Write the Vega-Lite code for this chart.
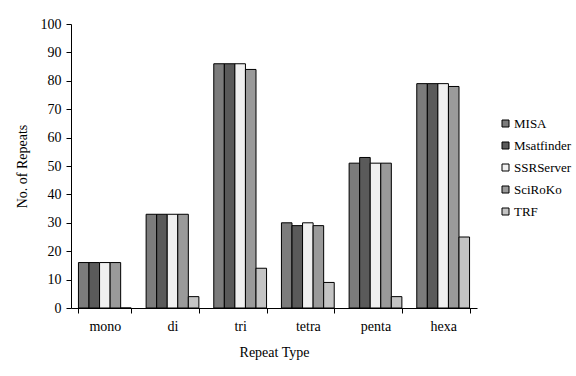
{
  "$schema": "https://vega.github.io/schema/vega-lite/v6.json",
  "autosize": "none",
  "width": 406,
  "height": 284,
  "padding": {"left": 71, "top": 24, "right": 99, "bottom": 68},
  "background": "white",
  "config": {
    "view": {"stroke": null},
    "font": "Times New Roman",
    "axis": {"labelFont": "Times New Roman", "titleFont": "Times New Roman", "labelFontSize": 14, "titleFontSize": 14, "titleFontWeight": "normal", "labelColor": "#000", "titleColor": "#000", "domainColor": "#000", "tickColor": "#000", "grid": false},
    "legend": {"labelFont": "Times New Roman", "labelFontSize": 13, "labelColor": "#000"}
  },
  "data": {"values": [
    {"type": "mono", "tool": "MISA", "n": 16},
    {"type": "mono", "tool": "Msatfinder", "n": 16},
    {"type": "mono", "tool": "SSRServer", "n": 16},
    {"type": "mono", "tool": "SciRoKo", "n": 16},
    {"type": "mono", "tool": "TRF", "n": 0},
    {"type": "di", "tool": "MISA", "n": 33},
    {"type": "di", "tool": "Msatfinder", "n": 33},
    {"type": "di", "tool": "SSRServer", "n": 33},
    {"type": "di", "tool": "SciRoKo", "n": 33},
    {"type": "di", "tool": "TRF", "n": 4},
    {"type": "tri", "tool": "MISA", "n": 86},
    {"type": "tri", "tool": "Msatfinder", "n": 86},
    {"type": "tri", "tool": "SSRServer", "n": 86},
    {"type": "tri", "tool": "SciRoKo", "n": 84},
    {"type": "tri", "tool": "TRF", "n": 14},
    {"type": "tetra", "tool": "MISA", "n": 30},
    {"type": "tetra", "tool": "Msatfinder", "n": 29},
    {"type": "tetra", "tool": "SSRServer", "n": 30},
    {"type": "tetra", "tool": "SciRoKo", "n": 29},
    {"type": "tetra", "tool": "TRF", "n": 9},
    {"type": "penta", "tool": "MISA", "n": 51},
    {"type": "penta", "tool": "Msatfinder", "n": 53},
    {"type": "penta", "tool": "SSRServer", "n": 51},
    {"type": "penta", "tool": "SciRoKo", "n": 51},
    {"type": "penta", "tool": "TRF", "n": 4},
    {"type": "hexa", "tool": "MISA", "n": 79},
    {"type": "hexa", "tool": "Msatfinder", "n": 79},
    {"type": "hexa", "tool": "SSRServer", "n": 79},
    {"type": "hexa", "tool": "SciRoKo", "n": 78},
    {"type": "hexa", "tool": "TRF", "n": 25}
  ]},
  "mark": {"type": "bar", "stroke": "#000", "strokeWidth": 1},
  "encoding": {
    "x": {"field": "type", "type": "nominal", "sort": ["mono", "di", "tri", "tetra", "penta", "hexa"],
      "scale": {"paddingInner": 0.22, "paddingOuter": 0.11},
      "axis": {"title": "Repeat Type", "labelAngle": 0, "tickBand": "extent", "tickSize": 5, "labelPadding": 6, "titlePadding": 12}},
    "xOffset": {"field": "tool", "type": "nominal", "sort": ["MISA", "Msatfinder", "SSRServer", "SciRoKo", "TRF"]},
    "y": {"field": "n", "type": "quantitative", "scale": {"domain": [0, 100], "nice": false},
      "axis": {"title": "No. of Repeats", "values": [0,10,20,30,40,50,60,70,80,90,100], "tickSize": 5, "labelPadding": 5, "titlePadding": 11}},
    "fill": {"field": "tool", "type": "nominal", "sort": ["MISA", "Msatfinder", "SSRServer", "SciRoKo", "TRF"],
      "scale": {"range": ["#7c7c7c", "#5a5a5a", "#f0f0f0", "#9a9a9a", "#c4c4c4"]},
      "legend": {"title": null, "orient": "none", "legendX": 428, "legendY": 93, "symbolType": "square", "symbolSize": 49, "symbolStrokeColor": "#000", "symbolStrokeWidth": 1, "rowPadding": 8, "labelOffset": 2}}
  }
}
